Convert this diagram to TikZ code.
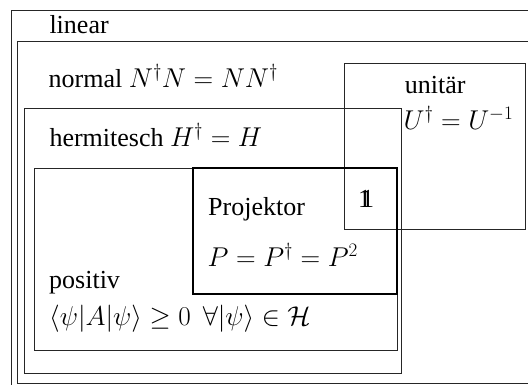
\RequirePackage{fix-cm}
\documentclass[tikz,border=0pt]{standalone}
\usepackage{amsmath,amssymb}
\usepackage[no-math]{fontspec}
\setmainfont{Liberation Serif}
\newcommand{\idsym}{\textup{1\kern-0.39em1}}
\newcommand{\mth}[1]{{\fontsize{27.2}{30}\selectfont$#1$}}
\tikzset{
  frame/.style={draw=black!85, line width=0.8pt},
  proj/.style={draw=black, line width=1.6pt},
  lbl/.style={anchor=base west, inner sep=0pt, font=\fontsize{26}{30}\selectfont},
}
\begin{document}
\begin{tikzpicture}[x=1pt,y=-1pt]
\useasboundingbox (0,0) rectangle (528,385);
\clip (0,0) rectangle (528,385);
\draw[frame] (11,10) rectangle (540,400);
\draw[frame] (17,41) rectangle (540,383);
\draw[frame] (24.5,108) rectangle (401.5,373);
\draw[frame] (34,168) rectangle (397,350);
\draw[frame] (344,63) rectangle (525,229.5);
\draw[proj] (193,168) rectangle (397,294);
\node[lbl] (lin) at (49.3,33.3) {linear};
\node[lbl] (nor) at (48.5,87.3) {normal \mth{N^\dagger N = NN^\dagger}};
\node[lbl] (her) at (49.3,146.7) {hermitesch \mth{H^\dagger = H}};
\node[lbl] (uni) at (404.7,93.3) {unitär};
\node[lbl] (unieq) at (403.5,129.3) {\mth{U^\dagger = U^{-1}}};
\node[lbl] (one) at (358,207.3) {\idsym};
\node[lbl] (pro) at (208,215.3) {Projektor};
\node[lbl] (proeq) at (207.5,266) {\mth{P = P^\dagger = P^2}};
\node[lbl] (pos) at (49,288.7) {positiv};
\node[lbl] (poseq) at (49,325.3) {\mth{\langle\psi|A|\psi\rangle \geq 0\hspace{12pt}\forall|\psi\rangle \in \mathcal{H}}};
\end{tikzpicture}
\end{document}
